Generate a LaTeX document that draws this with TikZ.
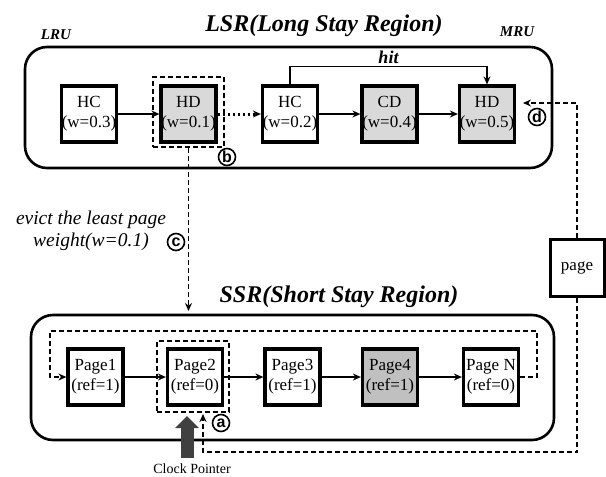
\documentclass[tikz,border=0pt]{standalone}
\usepackage{fontspec}
\setmainfont{Liberation Serif}
\setsansfont{Liberation Sans}
\usetikzlibrary{arrows.meta}
\definecolor{lsrgray}{RGB}{217,217,217}
\definecolor{ssrgray}{RGB}{192,192,192}
\definecolor{clockgray}{RGB}{64,64,64}
\begin{document}
\begin{tikzpicture}[x=1pt,y=-1pt,>={Stealth[length=8pt,width=7pt]},
        blk/.style={draw,line width=3.2pt,minimum width=55pt,minimum height=56pt,
            inner sep=0pt,align=center,font=\fontsize{17}{20}\selectfont},
        region/.style={draw,line width=2.6pt,rounded corners=22pt,inner sep=0pt},
        sel/.style={draw,line width=1.5pt,dash pattern=on 5pt off 3pt,inner sep=0pt},
        tag/.style={circle,draw,line width=1.6pt,inner sep=0pt,minimum size=17pt,
            font=\sffamily\bfseries\fontsize{16}{16}\selectfont},
        flow/.style={->,line width=2.5pt},
        trace/.style={->,line width=1.5pt,dash pattern=on 5pt off 3pt},
        ttl/.style={font=\fontsize{24}{26}\selectfont\bfseries\itshape,anchor=base}]
\useasboundingbox (0,0) rectangle (606,477);

% long stay region
\node[ttl] (lsrt) at (324,31) {LSR(Long Stay Region)};
\node[font=\fontsize{15}{15}\selectfont\bfseries\itshape] (lru) at (56,35) {LRU};
\node[font=\fontsize{15}{15}\selectfont\bfseries\itshape] (mru) at (517,32) {MRU};
\node[region,minimum width=527pt,minimum height=121pt] (lsr) at (288.5,107.5) {};

\node[blk] (hc1) at (89,114) {HC\\(w=0.3)};
\node[blk,fill=lsrgray] (hd1) at (188.5,114) {HD\\(w=0.1)};
\node[blk] (hc2) at (290,114) {HC\\(w=0.2)};
\node[blk,fill=lsrgray] (cd) at (389.5,114) {CD\\(w=0.4)};
\node[blk,fill=lsrgray] (hd2) at (487,114) {HD\\(w=0.5)};
\node[sel,minimum width=71pt,minimum height=70pt] (hdsel) at (188.5,112) {};

\draw[flow] (hc1) -- (hd1);
\draw[->,line width=3pt,dash pattern=on 2.5pt off 2.5pt] (hd1) -- (hc2);
\draw[flow] (hc2) -- (cd);
\draw[flow] (cd) -- (hd2);
\draw[->,line width=1.3pt] (hc2.north) -- ++(0,-18) -| (hd2.north)
    node[pos=0.25,above=-1pt,font=\fontsize{18}{18}\selectfont\bfseries\itshape] (hit) {hit};

\node[tag] (tb) at (227,157) {b};
\node[tag] (td) at (537,117) {d};

% eviction
\draw[trace,shorten >=4pt] (hdsel.south) -- (hdsel.south |- 0,315);
\node[align=center,font=\fontsize{19.5}{22}\selectfont\itshape] (evict) at (91,231)
    {evict the least page\\weight(w=0.1)};
\node[tag] (tc) at (176,242) {c};

% short stay region
\node[ttl] (ssrt) at (339,302) {SSR(Short Stay Region)};
\node[region,minimum width=523pt,minimum height=125pt] (ssr) at (292.5,377.5) {};

\node[blk] (p1) at (95.5,377) {Page1\\(ref=1)};
\node[blk] (p2) at (195,377) {Page2\\(ref=0)};
\node[blk] (p3) at (292.5,377) {Page3\\(ref=1)};
\node[blk,fill=ssrgray] (p4) at (390,377) {Page4\\(ref=1)};
\node[blk] (pN) at (491,377) {Page N\\(ref=0)};
\node[sel,minimum width=72pt,minimum height=71pt] (p2sel) at (193,376.5) {};

\draw[flow] (p1) -- (p2);
\draw[flow] (p2) -- (p3);
\draw[flow] (p3) -- (p4);
\draw[flow] (p4) -- (pN);
\coordinate (loopr) at (537,331);
\coordinate (loopl) at (50,331);
\draw[trace] (pN.east) -| (loopr) -- (loopl) |- (p1.west);

\node[tag] (ta) at (221,423) {a};

% clock pointer
\coordinate (clk) at (187,458);
\draw[clockgray,line width=13pt,-{Triangle[length=12pt,width=23pt]}] (clk) -- (187,416);
\node[font=\fontsize{14}{14}\selectfont] (clock) at (192,469) {Clock Pointer};

% incoming page
\node[draw,line width=3pt,minimum width=54pt,minimum height=57pt,
    font=\fontsize{17}{17}\selectfont] (page) at (577,267.5) {page};
\coordinate (din) at (523,103);
\coordinate (ain) at (203,452);
\draw[trace] (page.north) |- (din);
\draw[trace] (page.south) |- (ain) -- (203,414);
\end{tikzpicture}
\end{document}
